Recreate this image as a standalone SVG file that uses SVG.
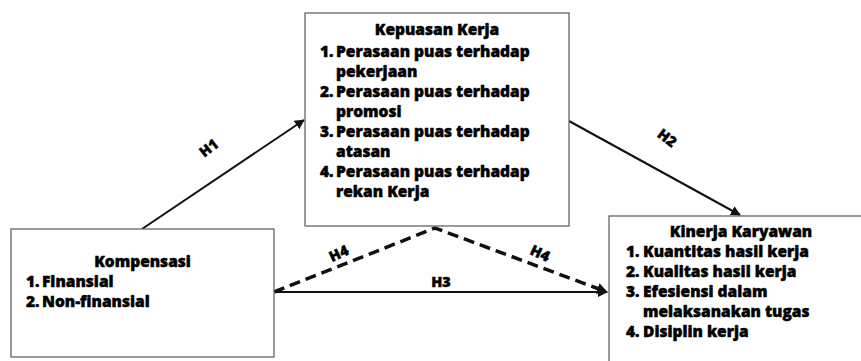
<svg xmlns="http://www.w3.org/2000/svg" width="861" height="361" viewBox="0 0 861 361">
<style>
.box{fill:#fff;stroke:#666;stroke-width:1.3}
.t{font-family:"Open Sans","Liberation Sans",sans-serif;font-weight:800;font-size:15.5px;fill:#000;stroke:#000;stroke-width:0.45}
.m{text-anchor:middle}
.lbl{font-family:"Open Sans","Liberation Sans",sans-serif;font-weight:800;font-size:14.5px;fill:#000;stroke:#000;stroke-width:0.4;text-anchor:middle}
.ln{stroke:#111;stroke-width:2;fill:none}
.dash{stroke:#111;stroke-width:3.5;fill:none;stroke-dasharray:11 6}
</style>
<defs>
<marker id="ah" viewBox="0 0 10 10" refX="9" refY="5" markerWidth="5" markerHeight="5" markerUnits="strokeWidth" orient="auto">
<path d="M0,0 L10,5 L0,10 z" fill="#111"/>
</marker>
<marker id="ahd" viewBox="0 0 10 10" refX="9" refY="5" markerWidth="3.2" markerHeight="3.2" markerUnits="strokeWidth" orient="auto">
<path d="M0,0 L10,5 L0,10 z" fill="#111"/>
</marker>
</defs>
<rect width="861" height="361" fill="#fff"/>
<g id="connectors">
<line class="ln" x1="142" y1="229" x2="304" y2="120" marker-end="url(#ah)"/>
<line class="ln" x1="569" y1="121" x2="740" y2="215" marker-end="url(#ah)"/>
<line class="ln" x1="274" y1="292" x2="607" y2="292" marker-end="url(#ah)"/>
<path class="dash" d="M274,292 L435,228 L607,292" marker-end="url(#ahd)"/>
<text class="lbl" transform="translate(212,152) rotate(-38)">H1</text>
<text class="lbl" transform="translate(664,142) rotate(38)">H2</text>
<text class="lbl" x="441" y="287">H3</text>
<text class="lbl" transform="translate(341,258) rotate(-25)">H4</text>
<text class="lbl" transform="translate(538,258) rotate(25)">H4</text>
</g>
<g id="kepuasan">
<rect class="box" x="305" y="13" width="264" height="213"/>
<text class="t m" x="437" y="35">Kepuasan Kerja</text>
<text class="t" x="320" y="56.5">1.</text><text class="t" x="336" y="56.5">Perasaan puas terhadap</text>
<text class="t" x="336" y="76.5">pekerjaan</text>
<text class="t" x="320" y="96.5">2.</text><text class="t" x="336" y="96.5">Perasaan puas terhadap</text>
<text class="t" x="336" y="116.5">promosi</text>
<text class="t" x="320" y="136.5">3.</text><text class="t" x="336" y="136.5">Perasaan puas terhadap</text>
<text class="t" x="336" y="156.5">atasan</text>
<text class="t" x="320" y="176.5">4.</text><text class="t" x="336" y="176.5">Perasaan puas terhadap</text>
<text class="t" x="336" y="196.5">rekan Kerja</text>
</g>
<g id="kompensasi">
<rect class="box" x="11" y="229" width="263" height="128"/>
<text class="t m" x="142.5" y="266.5">Kompensasi</text>
<text class="t" x="26" y="286.5">1.</text><text class="t" x="42" y="286.5">Finansial</text>
<text class="t" x="26" y="306.5">2.</text><text class="t" x="42" y="306.5">Non-finansial</text>
</g>
<g id="kinerja">
<rect class="box" x="609" y="216" width="270" height="160"/>
<text class="t m" x="741" y="236.5">Kinerja Karyawan</text>
<text class="t" x="626" y="256.5">1.</text><text class="t" x="643" y="256.5">Kuantitas hasil kerja</text>
<text class="t" x="626" y="276.5">2.</text><text class="t" x="643" y="276.5">Kualitas hasil kerja</text>
<text class="t" x="626" y="296.5">3.</text><text class="t" x="643" y="296.5">Efesiensi dalam</text>
<text class="t" x="643" y="316.5">melaksanakan tugas</text>
<text class="t" x="626" y="336.5">4.</text><text class="t" x="643" y="336.5">Disiplin kerja</text>
</g>
</svg>
